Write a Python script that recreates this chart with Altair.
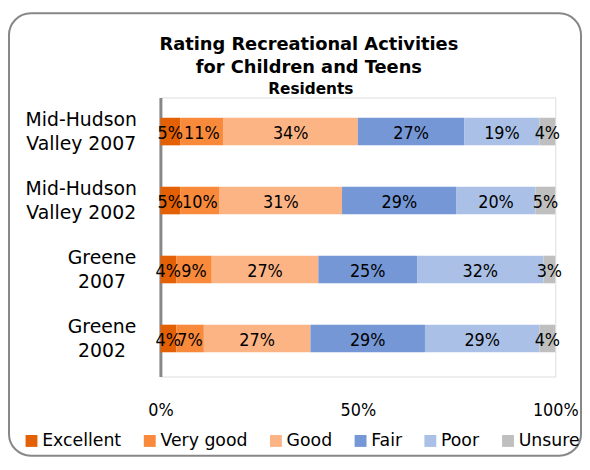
import altair as alt
import pandas as pd

rows = ["Mid-Hudson\nValley 2007", "Mid-Hudson\nValley 2002", "Greene\n2007", "Greene\n2002"]
ratings = ["Excellent", "Very good", "Good", "Fair", "Poor", "Unsure"]
colors = ["#E36005", "#F98A3B", "#FDB485", "#7597D6", "#AAC0E7", "#BFBFBF"]
mid_hudson_2007 = [5, 11, 34, 27, 19, 4]
mid_hudson_2002 = [5, 10, 31, 29, 20, 5]
greene_2007 = [4, 9, 27, 25, 32, 3]
greene_2002 = [4, 7, 27, 29, 29, 4]
x_ticks = [0, 50, 100]
title_lines = ["Rating Recreational Activities", "for Children and Teens"]
subtitle = "Residents"

series = [mid_hudson_2007, mid_hudson_2002, greene_2007, greene_2002]
records = []
for r, vals in zip(rows, series):
    for i, (rating, v) in enumerate(zip(ratings, vals)):
        records.append({"row": r, "rating": rating, "idx": i, "value": v})
df = pd.DataFrame(records)

NUM_FONT = "Liberation Sans Narrow, DejaVu Sans Condensed, sans-serif"
TXT_FONT = "DejaVu Sans"

yscale = alt.Scale(paddingInner=0.6, paddingOuter=0.323, align=0.456)

base = alt.Chart(df)

bars = base.mark_bar().encode(
    x=alt.X("value:Q", stack="zero",
            scale=alt.Scale(domain=[0, 100], nice=False),
            axis=alt.Axis(values=x_ticks, labelExpr="datum.value + '%'",
                          domain=False, ticks=False, grid=False, title=None,
                          labelFlush=False,
                          labelFont=NUM_FONT, labelFontSize=18,
                          labelColor="black", labelPadding=25)),
    y=alt.Y("row:N", sort=rows, scale=yscale,
            axis=alt.Axis(labels=False, ticks=False, title=None, grid=False,
                          domainColor="#878787", domainWidth=3)),
    color=alt.Color("rating:N", sort=ratings,
                    scale=alt.Scale(domain=ratings, range=colors),
                    legend=alt.Legend(orient="none", legendX=-139, legendY=338,
                                      direction="horizontal", title=None,
                                      symbolType="square", symbolSize=144,
                                      symbolStrokeWidth=0, labelFont=TXT_FONT,
                                      labelFontSize=17.5, labelColor="black",
                                      columnPadding=19.5, labelOffset=2,
                                      padding=0)),
    order=alt.Order("idx:Q"),
)

labels = base.transform_window(
    cum="sum(value)", groupby=["row"], sort=[alt.SortField("idx")]
).transform_calculate(
    mid="datum.cum - datum.value / 2", label="datum.value + '%'"
).mark_text(font=NUM_FONT, fontSize=18, color="black", dy=3).encode(
    x=alt.X("mid:Q"),
    y=alt.Y("row:N", sort=rows),
    text=alt.Text("label:N"),
)

row_mh = base.transform_filter(
    "datum.idx == 0 && indexof(datum.row, 'Mid') == 0"
).mark_text(lineBreak="\n", align="center", font=TXT_FONT, fontSize=19,
            lineHeight=25, color="black", dy=-12).encode(
    x=alt.value(-80),
    y=alt.Y("row:N", sort=rows),
    text=alt.Text("row:N"),
)

row_gr = base.transform_filter(
    "datum.idx == 0 && indexof(datum.row, 'Greene') == 0"
).mark_text(lineBreak="\n", align="center", font=TXT_FONT, fontSize=19,
            lineHeight=25, color="black", dy=-12).encode(
    x=alt.value(-59),
    y=alt.Y("row:N", sort=rows),
    text=alt.Text("row:N"),
)

one = alt.Chart(pd.DataFrame({"b": [0]}))

border = one.mark_rect(
    fillOpacity=0, stroke="#878787", strokeWidth=2, cornerRadius=22
).encode(
    x=alt.value(-153), x2=alt.value(425), y=alt.value(-85), y2=alt.value(362)
)

t1 = one.mark_text(font=TXT_FONT, fontSize=18, fontWeight="bold", color="black",
                   align="center", baseline="alphabetic").encode(
    x=alt.value(150), y=alt.value(-48), text=alt.value(title_lines[0]))
t2 = one.mark_text(font=TXT_FONT, fontSize=18, fontWeight="bold", color="black",
                   align="center", baseline="alphabetic").encode(
    x=alt.value(150), y=alt.value(-25), text=alt.value(title_lines[1]))
t3 = one.mark_text(font=TXT_FONT, fontSize=15.5, fontWeight="bold", color="black",
                   align="center", baseline="alphabetic").encode(
    x=alt.value(152), y=alt.value(-3), text=alt.value(subtitle))

chart = alt.layer(border, bars, labels, row_mh, row_gr, t1, t2, t3).properties(
    width=399,
    height=282,
    padding={"left": 154, "top": 88, "right": 27, "bottom": 82},
    autosize=alt.AutoSizeParams(type="none"),
).configure_view(stroke=None).configure(background="white")

chart.save("out.html", embed_options={"renderer": "svg", "actions": False})
